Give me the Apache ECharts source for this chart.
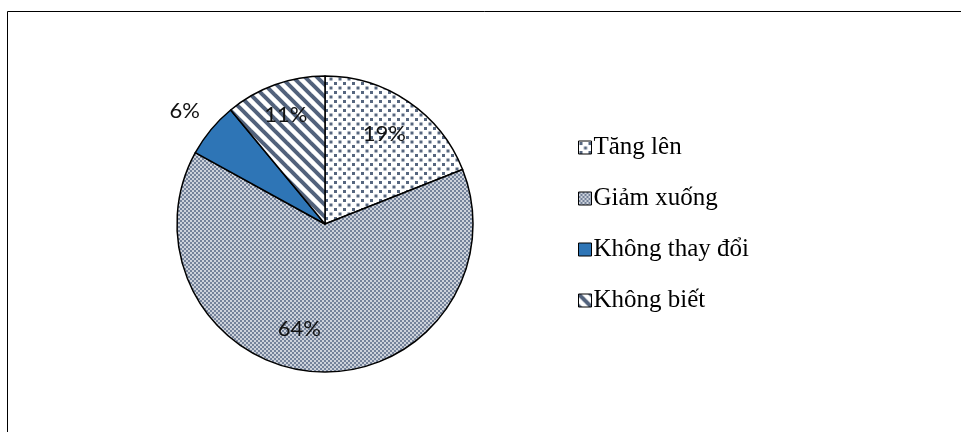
<!DOCTYPE html>
<html><head><meta charset="utf-8">
<script src="https://cdn.jsdelivr.net/npm/echarts@6/dist/echarts.min.js"></script>
<style>html,body{margin:0;padding:0;background:#fff}#c{width:961px;height:432px}</style>
</head><body><div id="c"></div>
<script>
const categories = ['Tăng lên', 'Giảm xuống', 'Không thay đổi', 'Không biết'];
const values = [19, 64, 6, 11];

function tile(w, h, draw) {
  const c = document.createElement('canvas'); c.width = w; c.height = h;
  const g = c.getContext('2d'); draw(g, w, h); return c;
}
const pDots = tile(9, 9, (g, w, h) => {
  g.fillStyle = '#ffffff'; g.fillRect(0, 0, w, h);
  g.fillStyle = '#56667f'; g.fillRect(1, 1, 3, 3); g.fillRect(5.5, 5.5, 3, 3);
});
const pChecker = tile(4, 4, (g, w, h) => {
  g.fillStyle = '#cdd2db'; g.fillRect(0, 0, w, h);
  g.fillStyle = '#74829a'; g.fillRect(0, 0, 2, 2); g.fillRect(2, 2, 2, 2);
});
const pStripes = tile(12, 12, (g, w, h) => {
  g.fillStyle = '#ffffff'; g.fillRect(0, 0, w, h);
  g.strokeStyle = '#52627c'; g.lineWidth = 4;
  for (const o of [-12, 0, 12]) { g.beginPath(); g.moveTo(o - 2, -2); g.lineTo(o + 14, 14); g.stroke(); }
});
const fills = [
  { image: pDots, repeat: 'repeat' },
  { image: pChecker, repeat: 'repeat' },
  '#2e75b6',
  { image: pStripes, repeat: 'repeat' }
];

const mainData = categories.map((n, i) => ({ name: n, value: values[i], itemStyle: { color: fills[i] } }));
const center = [325, 224];
const labelFont = { fontFamily: 'Lato', fontSize: 22, color: '#111' };
const pads = [[0, 4, 0, 0], [0, 38, 0, 0], [0, 8, 0, 0], [0, 0, 0, 0]];
const ghost = (radius, showIdx) => ({
  type: 'pie', radius: radius, center: center, startAngle: 90, clockwise: true,
  silent: true, legendHoverLink: false, animation: false,
  itemStyle: { color: 'rgba(0,0,0,0)', borderWidth: 0 },
  emphasis: { disabled: true },
  labelLine: { show: false },
  data: categories.map((n, i) => ({
    name: n + ' ', value: values[i],
    label: { show: showIdx.includes(i), position: 'inside', formatter: '{d}%', padding: pads[i], ...labelFont }
  }))
});

const chart = echarts.init(document.getElementById('c'), null, { renderer: 'canvas' });
chart.setOption({
  animation: false,
  backgroundColor: '#ffffff',
  graphic: [{ type: 'rect', shape: { x: 7.5, y: 11.5, width: 1000, height: 500 },
    style: { fill: 'none', stroke: '#000', lineWidth: 1 }, silent: true }],
  legend: {
    orient: 'vertical', left: 573, top: 130,
    data: categories,
    itemWidth: 13, itemHeight: 13, itemGap: 26,
    icon: 'rect',
    itemStyle: { borderColor: '#000', borderWidth: 1 },
    textStyle: { fontFamily: 'Liberation Serif', fontSize: 25, color: '#000', lineHeight: 25, padding: [0, 0, 0, -3] }
  },
  series: [
    {
      type: 'pie', radius: [0, 148], center: center, startAngle: 90, clockwise: true,
      animation: false, silent: true,
      itemStyle: { borderColor: '#000', borderWidth: 1.5 },
      label: { show: false }, labelLine: { show: false },
      emphasis: { disabled: true },
      data: mainData
    },
    ghost([0, 212], [0]),
    ghost([0, 226], [3]),
    ghost([0, 204], [1]),
    ghost([0, 348], [2])
  ]
});
</script></body></html>
